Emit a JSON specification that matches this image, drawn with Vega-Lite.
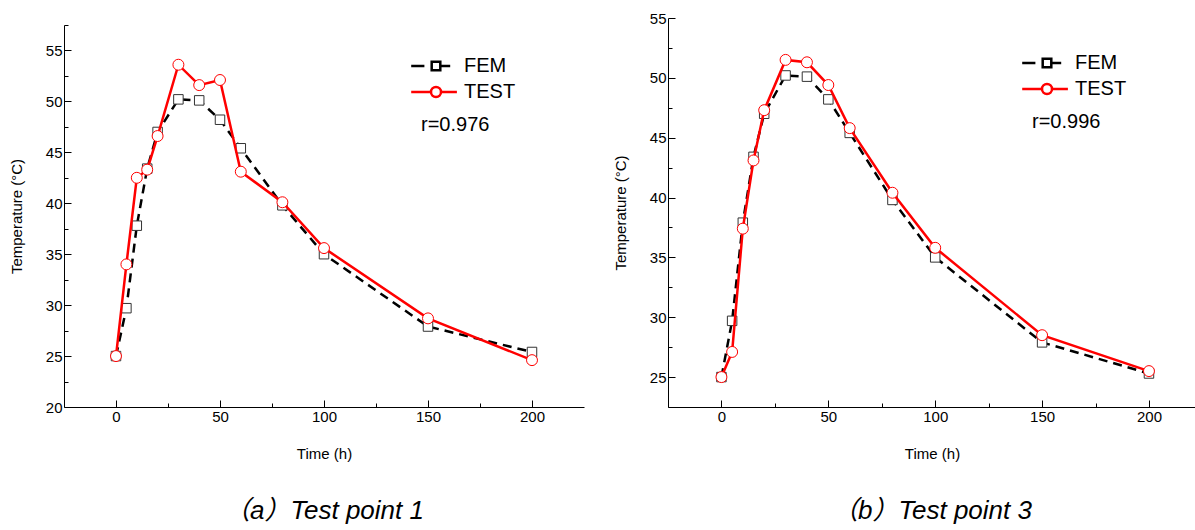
{
  "$schema": "https://vega.github.io/schema/vega-lite/v6.json",
  "padding": {"left": 9, "top": 11, "right": 0, "bottom": 0},
  "spacing": 84,
  "bounds": "flush",
  "datasets": {
    "p1": [
      {"t": 0, "T": 25.0, "series": "FEM"},
      {"t": 5, "T": 29.7, "series": "FEM"},
      {"t": 10, "T": 37.8, "series": "FEM"},
      {"t": 15, "T": 43.4, "series": "FEM"},
      {"t": 20, "T": 47.0, "series": "FEM"},
      {"t": 30, "T": 50.2, "series": "FEM"},
      {"t": 40, "T": 50.1, "series": "FEM"},
      {"t": 50, "T": 48.2, "series": "FEM"},
      {"t": 60, "T": 45.4, "series": "FEM"},
      {"t": 80, "T": 39.8, "series": "FEM"},
      {"t": 100, "T": 35.0, "series": "FEM"},
      {"t": 150, "T": 27.9, "series": "FEM"},
      {"t": 200, "T": 25.4, "series": "FEM"},
      {"t": 0, "T": 25.0, "series": "TEST"},
      {"t": 5, "T": 34.0, "series": "TEST"},
      {"t": 10, "T": 42.5, "series": "TEST"},
      {"t": 15, "T": 43.3, "series": "TEST"},
      {"t": 20, "T": 46.6, "series": "TEST"},
      {"t": 30, "T": 53.6, "series": "TEST"},
      {"t": 40, "T": 51.6, "series": "TEST"},
      {"t": 50, "T": 52.1, "series": "TEST"},
      {"t": 60, "T": 43.1, "series": "TEST"},
      {"t": 80, "T": 40.1, "series": "TEST"},
      {"t": 100, "T": 35.6, "series": "TEST"},
      {"t": 150, "T": 28.7, "series": "TEST"},
      {"t": 200, "T": 24.6, "series": "TEST"}
    ],
    "p3": [
      {"t": 0, "T": 25.0, "series": "FEM"},
      {"t": 5, "T": 29.7, "series": "FEM"},
      {"t": 10, "T": 37.9, "series": "FEM"},
      {"t": 15, "T": 43.4, "series": "FEM"},
      {"t": 20, "T": 47.0, "series": "FEM"},
      {"t": 30, "T": 50.2, "series": "FEM"},
      {"t": 40, "T": 50.1, "series": "FEM"},
      {"t": 50, "T": 48.2, "series": "FEM"},
      {"t": 60, "T": 45.4, "series": "FEM"},
      {"t": 80, "T": 39.8, "series": "FEM"},
      {"t": 100, "T": 35.0, "series": "FEM"},
      {"t": 150, "T": 27.9, "series": "FEM"},
      {"t": 200, "T": 25.3, "series": "FEM"},
      {"t": 0, "T": 25.0, "series": "TEST"},
      {"t": 5, "T": 27.1, "series": "TEST"},
      {"t": 10, "T": 37.4, "series": "TEST"},
      {"t": 15, "T": 43.1, "series": "TEST"},
      {"t": 20, "T": 47.3, "series": "TEST"},
      {"t": 30, "T": 51.5, "series": "TEST"},
      {"t": 40, "T": 51.3, "series": "TEST"},
      {"t": 50, "T": 49.4, "series": "TEST"},
      {"t": 60, "T": 45.8, "series": "TEST"},
      {"t": 80, "T": 40.4, "series": "TEST"},
      {"t": 100, "T": 35.8, "series": "TEST"},
      {"t": 150, "T": 28.5, "series": "TEST"},
      {"t": 200, "T": 25.5, "series": "TEST"}
    ]
  },
  "hconcat": [
    {
      "width": 520,
      "height": 389,
      "data": {"name": "p1"},
      "title": {"text": "（a）Test point 1", "orient": "bottom", "anchor": "middle", "fontSize": 26, "fontStyle": "italic", "fontWeight": "normal", "font": "Liberation Sans, Noto Sans CJK SC", "color": "black", "offset": 37},
      "encoding": {
        "x": {"field": "t", "type": "quantitative", "scale": {"domain": [-25, 225], "nice": false, "zero": false},
          "axis": {"title": "Time (h)", "titlePadding": 19, "values": [0, 25, 50, 75, 100, 125, 150, 175, 200], "labelExpr": "datum.value % 50 === 0 ? datum.label : ''", "tickSize": {"condition": {"test": "datum.value % 50 === 0", "value": -7}, "value": -4}}},
        "y": {"field": "T", "type": "quantitative", "scale": {"domain": [20, 57.5], "range": [389, 7], "nice": false, "zero": false},
          "axis": {"title": "Temperature (°C)", "titlePadding": 21, "values": [20, 22.5, 25, 27.5, 30, 32.5, 35, 37.5, 40, 42.5, 45, 47.5, 50, 52.5, 55, 57.5], "labelExpr": "datum.value % 5 === 0 ? datum.label : ''", "tickSize": {"condition": {"test": "datum.value % 5 === 0", "value": -7}, "value": -4}}}
      },
      "layer": [
        {"transform": [{"filter": "datum.series === 'FEM'"}], "mark": {"type": "line", "strokeDash": [9, 6], "strokeWidth": 2.5, "color": "#000000"}},
        {"transform": [{"filter": "datum.series === 'FEM'"}], "mark": {"type": "point", "shape": "square", "filled": true, "fill": "white", "stroke": "#333333", "strokeWidth": 1, "size": 90, "opacity": 1}},
        {"transform": [{"filter": "datum.series === 'TEST'"}], "mark": {"type": "line", "strokeWidth": 2.5, "color": "#ff0000"}},
        {"transform": [{"filter": "datum.series === 'TEST'"}], "mark": {"type": "point", "shape": "circle", "filled": true, "fill": "white", "stroke": "#ff0000", "strokeWidth": 1, "size": 120, "opacity": 1}},
        {"transform": [{"filter": "false"}], "mark": {"type": "point", "filled": false, "fill": "#ffffff", "strokeWidth": 2.5, "size": 100, "opacity": 1},
          "encoding": {
            "color": {"field": "series", "type": "nominal", "scale": {"domain": ["FEM", "TEST"], "range": ["#000000", "#ff0000"]},
              "legend": {"orient": "none", "legendX": 357, "legendY": 38, "title": "r=0.976"}},
            "shape": {"field": "series", "type": "nominal", "scale": {"domain": ["FEM", "TEST"], "range": ["M-3.96,0H-1.32M0.14,-0.86H1.86V0.86H0.14ZM1.86,0H3.84", "M-3.96,0H0M2,0H5.18M0,0A1,1 0 1,0 2,0A1,1 0 1,0 0,0"]},
              "legend": {"orient": "none", "legendX": 357, "legendY": 38, "title": "r=0.976"}}
          }}
      ]
    },
    {
      "width": 528,
      "height": 389,
      "data": {"name": "p3"},
      "title": {"text": "（b）Test point 3", "orient": "bottom", "anchor": "middle", "fontSize": 26, "fontStyle": "italic", "fontWeight": "normal", "font": "Liberation Sans, Noto Sans CJK SC", "color": "black", "offset": 37},
      "encoding": {
        "x": {"field": "t", "type": "quantitative", "scale": {"domain": [-25, 222], "nice": false, "zero": false},
          "axis": {"title": "Time (h)", "titlePadding": 19, "values": [0, 25, 50, 75, 100, 125, 150, 175, 200], "labelExpr": "datum.value % 50 === 0 ? datum.label : ''", "tickSize": {"condition": {"test": "datum.value % 50 === 0", "value": -7}, "value": -4}}},
        "y": {"field": "T", "type": "quantitative", "scale": {"domain": [22.5, 55], "nice": false, "zero": false},
          "axis": {"title": "Temperature (°C)", "titlePadding": 21, "values": [22.5, 25, 27.5, 30, 32.5, 35, 37.5, 40, 42.5, 45, 47.5, 50, 52.5, 55], "labelExpr": "datum.value % 5 === 0 ? datum.label : ''", "tickSize": {"condition": {"test": "datum.value % 5 === 0", "value": -7}, "value": -4}}}
      },
      "layer": [
        {"transform": [{"filter": "datum.series === 'FEM'"}], "mark": {"type": "line", "strokeDash": [9, 6], "strokeWidth": 2.5, "color": "#000000"}},
        {"transform": [{"filter": "datum.series === 'FEM'"}], "mark": {"type": "point", "shape": "square", "filled": true, "fill": "white", "stroke": "#333333", "strokeWidth": 1, "size": 90, "opacity": 1}},
        {"transform": [{"filter": "datum.series === 'TEST'"}], "mark": {"type": "line", "strokeWidth": 2.5, "color": "#ff0000"}},
        {"transform": [{"filter": "datum.series === 'TEST'"}], "mark": {"type": "point", "shape": "circle", "filled": true, "fill": "white", "stroke": "#ff0000", "strokeWidth": 1, "size": 120, "opacity": 1}},
        {"transform": [{"filter": "false"}], "mark": {"type": "point", "filled": false, "fill": "#ffffff", "strokeWidth": 2.5, "size": 100, "opacity": 1},
          "encoding": {
            "color": {"field": "series", "type": "nominal", "scale": {"domain": ["FEM", "TEST"], "range": ["#000000", "#ff0000"]},
              "legend": {"orient": "none", "legendX": 364, "legendY": 35, "title": "r=0.996"}},
            "shape": {"field": "series", "type": "nominal", "scale": {"domain": ["FEM", "TEST"], "range": ["M-3.96,0H-1.32M0.14,-0.86H1.86V0.86H0.14ZM1.86,0H3.84", "M-3.96,0H0M2,0H5.18M0,0A1,1 0 1,0 2,0A1,1 0 1,0 0,0"]},
              "legend": {"orient": "none", "legendX": 364, "legendY": 35, "title": "r=0.996"}}
          }}
      ]
    }
  ],
  "resolve": {"scale": {"color": "independent", "shape": "independent"}, "legend": {"color": "independent", "shape": "independent"}},
  "config": {
    "font": "Liberation Sans",
    "view": {"stroke": null},
    "axis": {
      "grid": false,
      "domainColor": "#000000",
      "domainWidth": 1,
      "tickColor": "#000000",
      "tickWidth": 1,
      "labelColor": "#000000",
      "titleColor": "#000000",
      "labelFont": "Liberation Sans",
      "titleFont": "Liberation Sans",
      "labelFontSize": 15,
      "titleFontSize": 15,
      "titleFontWeight": "normal",
      "labelPadding": 9,
      "labelFlush": false,
      "labelOverlap": false
    },
    "legend": {
      "padding": 0,
      "rowPadding": 6,
      "symbolSize": 100,
      "labelFontSize": 20,
      "labelFont": "Liberation Sans",
      "labelColor": "#000000",
      "labelOffset": 23,
      "titleFontSize": 20,
      "titleFont": "Liberation Sans",
      "titleFontWeight": "normal",
      "titleColor": "#000000",
      "titleOrient": "bottom",
      "titleAnchor": "start",
      "titlePadding": 13,
      "titleLimit": 0,
      "symbolStrokeWidth": 2.5,
      "symbolFillColor": "#ffffff"
    }
  }
}
